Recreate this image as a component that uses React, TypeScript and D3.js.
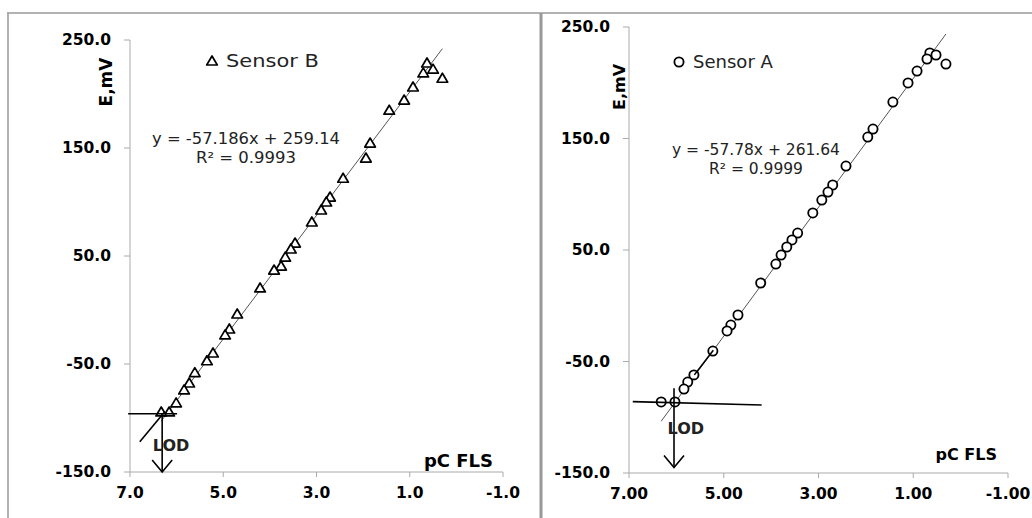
import React, { useLayoutEffect, useRef, useState } from "react";
import * as d3 from "d3";

// pC FLS values and potentials (mV)
const sensorBx = [0.63, 0.5, 0.71, 0.3, 0.93, 1.12, 1.44, 1.85, 1.94, 2.43, 2.71, 2.79, 2.9, 3.1, 3.46, 3.55, 3.67, 3.76, 3.91, 4.21, 4.7, 4.87, 4.96, 5.22, 5.35, 5.61, 5.73, 5.84, 6.01, 6.16, 6.33];
const sensorBy = [228.7, 223, 219.5, 214.6, 206.5, 194.4, 185, 154.6, 140.7, 122, 104.6, 100, 92.6, 81.5, 62, 56.5, 49, 40.7, 37, 20.4, -3.7, -17.6, -23, -39.8, -47, -58, -67.6, -74, -86, -94.4, -94.4];

const sensorAx = [0.65, 0.52, 0.71, 0.31, 0.92, 1.11, 1.43, 1.85, 1.96, 2.42, 2.7, 2.8, 2.93, 3.12, 3.44, 3.56, 3.67, 3.79, 3.9, 4.22, 4.7, 4.85, 4.93, 5.23, 5.63, 5.76, 5.84, 6.03, 6.32];
const sensorAy = [226.7, 224.9, 221.3, 216.8, 210.5, 199.8, 182.7, 158.5, 151.3, 125.3, 108.3, 102, 94.8, 83.2, 65.2, 59, 52.7, 45.5, 37.4, 20.4, -8.3, -17.3, -22.6, -40.6, -62, -68.4, -74.7, -86.3, -86.3];

const xTicks = [7, 5, 3, 1, -1];
const yTicks = [250, 150, 50, -50, -150];

// fit coefficients printed on the chart
const fitB = [-57.186, 259.14];
const fitA = [-57.78, 261.64];

// LOD construction lines [x1, y1, x2, y2]
const lodLinesB = [[7.04, -96, 5.99, -96], [6.79, -122, 6.25, -94]];
const lodArrowB = [6.31, -96, -150];
const lodTextB = [6.12, -125];
const lodLinesA = [[6.92, -86, 4.2, -89], [5.62, -62, 5.22, -40]];
const lodArrowA = [6.05, -74, -145];
const lodTextA = [5.8, -110];

const FONT = "'DejaVu Sans', Verdana, sans-serif";

// text squeezed/stretched horizontally to a given width
function FitText({ x, y, width, anchor = "start", children, ...rest }: any) {
  const ref = useRef<SVGTextElement>(null);
  const [s, setS] = useState(1);
  useLayoutEffect(() => {
    if (ref.current) {
      const len = ref.current.getComputedTextLength();
      if (len > 0) setS(width / len);
    }
  }, [width, children]);
  return (
    <text ref={ref} transform={`translate(${x},${y}) scale(${s},1)`} textAnchor={anchor} dy="0.35em" {...rest}>
      {children}
    </text>
  );
}

type PanelProps = {
  left: number; right: number; top: number; bottom: number;
  xs: number[]; ys: number[]; fit: number[];
  marker: "tri" | "circ"; name: string; eq: string; r2: string;
  digits: number;
  lodLines: number[][]; lodArrow: number[]; lodText: number[];
  legendX: number; legendY: number; legendW: number;
  eqX: number; eqY: number; eqW: number; r2W: number;
  titleX: number; titleY: number; titleSize: number; pcX: number; pcY: number; pcSize: number;
};

function Panel(p: PanelProps) {
  const x = d3.scaleLinear().domain([7, -1]).range([p.left, p.right]);
  const y = d3.scaleLinear().domain([-150, 250]).range([p.bottom, p.top]);
  const xmin = d3.min(p.xs)!, xmax = d3.max(p.xs)!;
  const fitLine = [xmin, xmax].map((v) => [x(v), y(p.fit[0] * v + p.fit[1])]);
  const mark = (cx: number, cy: number, i: number) =>
    p.marker === "tri" ? (
      <path key={i} d={`M${cx},${cy - 5}L${cx + 5.3},${cy + 4}L${cx - 5.3},${cy + 4}Z`}
        fill="#fff" stroke="#000" strokeWidth={1.7} strokeLinejoin="round" />
    ) : (
      <circle key={i} cx={cx} cy={cy} r={4.6} fill="#fff" stroke="#000" strokeWidth={1.8} />
    );
  const ax = p.lodArrow[0];
  return (
    <g>
      {/* axes */}
      <line x1={p.left} x2={p.left} y1={p.top} y2={p.bottom} stroke="#aaa" />
      <line x1={p.left} x2={p.right} y1={p.bottom} y2={p.bottom} stroke="#aaa" />
      {yTicks.map((t) => (
        <g key={t}>
          <line x1={p.left - 6} x2={p.left} y1={y(t)} y2={y(t)} stroke="#aaa" />
          <text x={p.left - 19} y={y(t)} dy="0.35em" textAnchor="end" fontSize={15.5} fontWeight="bold">{t.toFixed(1)}</text>
        </g>
      ))}
      {xTicks.map((t) => (
        <g key={t}>
          <line x1={x(t)} x2={x(t)} y1={p.bottom} y2={p.bottom + 5} stroke="#aaa" />
          <text x={x(t)} y={p.bottom + 21} dy="0.35em" textAnchor="middle" fontSize={15.5} fontWeight="bold">{t.toFixed(p.digits)}</text>
        </g>
      ))}
      <text transform={`translate(${p.titleX},${p.titleY}) rotate(-90)`} textAnchor="middle" dy="0.35em" fontSize={p.titleSize} fontWeight="bold">E,mV</text>
      <text x={p.pcX} y={p.pcY} textAnchor="end" fontSize={p.pcSize} fontWeight="bold">pC FLS</text>
      {/* trend line */}
      <line x1={fitLine[0][0]} y1={fitLine[0][1]} x2={fitLine[1][0]} y2={fitLine[1][1]} stroke="#555" strokeWidth={1} />
      {p.xs.map((v, i) => mark(x(v), y(p.ys[i]), i))}
      {/* LOD */}
      {p.lodLines.map((l, i) => (
        <line key={i} x1={x(l[0])} y1={y(l[1])} x2={x(l[2])} y2={y(l[3])} stroke="#000" strokeWidth={1.6} />
      ))}
      <line x1={x(ax)} x2={x(ax)} y1={y(p.lodArrow[1])} y2={y(p.lodArrow[2])} stroke="#000" strokeWidth={1.6} />
      <path d={`M${x(ax) - 10},${y(p.lodArrow[2]) - 12}L${x(ax)},${y(p.lodArrow[2])}L${x(ax) + 10},${y(p.lodArrow[2]) - 12}`}
        fill="none" stroke="#000" strokeWidth={1.6} />
      <text x={x(p.lodText[0])} y={y(p.lodText[1])} dy="0.35em" textAnchor="middle" fontSize={16} fontWeight="bold" fill="#222">LOD</text>
      {/* legend + equation */}
      {mark(p.legendX, p.legendY, -1)}
      <FitText x={p.legendX + 14} y={p.legendY} width={p.legendW} fontSize={17} fill="#222">{p.name}</FitText>
      <FitText x={p.eqX} y={p.eqY} width={p.eqW} anchor="middle" fontSize={16} fill="#222">{p.eq}</FitText>
      <FitText x={p.eqX} y={p.eqY + 19} width={p.r2W} anchor="middle" fontSize={16} fill="#222">{p.r2}</FitText>
    </g>
  );
}

export default function App() {
  return (
    <svg width={1032} height={518} style={{ position: "absolute", left: 0, top: 0, background: "#fff" }} fontFamily={FONT}>
      <rect width={1032} height={518} fill="#fff" />
      {/* frames */}
      <line x1={7} x2={1032} y1={13} y2={13} stroke="#999" strokeWidth={1.5} />
      <line x1={8} x2={8} y1={13} y2={518} stroke="#999" strokeWidth={1.5} />
      <line x1={541} x2={541} y1={13} y2={518} stroke="#999" strokeWidth={3} />
      <Panel left={130} right={503} top={40} bottom={472} xs={sensorBx} ys={sensorBy} fit={fitB}
        marker="tri" name="Sensor B" eq="y = -57.186x + 259.14" r2="R² = 0.9993" digits={1}
        lodLines={lodLinesB} lodArrow={lodArrowB} lodText={lodTextB}
        legendX={212} legendY={61} legendW={93} eqX={246} eqY={138} eqW={188} r2W={100}
        titleX={106} titleY={82} titleSize={17} pcX={493} pcY={467} pcSize={18} />
      <Panel left={629} right={1008} top={27} bottom={473} xs={sensorAx} ys={sensorAy} fit={fitA}
        marker="circ" name="Sensor A" eq="y = -57.78x + 261.64" r2="R² = 0.9999" digits={2}
        lodLines={lodLinesA} lodArrow={lodArrowA} lodText={lodTextA}
        legendX={679} legendY={62} legendW={80} eqX={756} eqY={149} eqW={168} r2W={94}
        titleX={619} titleY={87} titleSize={16} pcX={997} pcY={460} pcSize={16} />
    </svg>
  );
}
